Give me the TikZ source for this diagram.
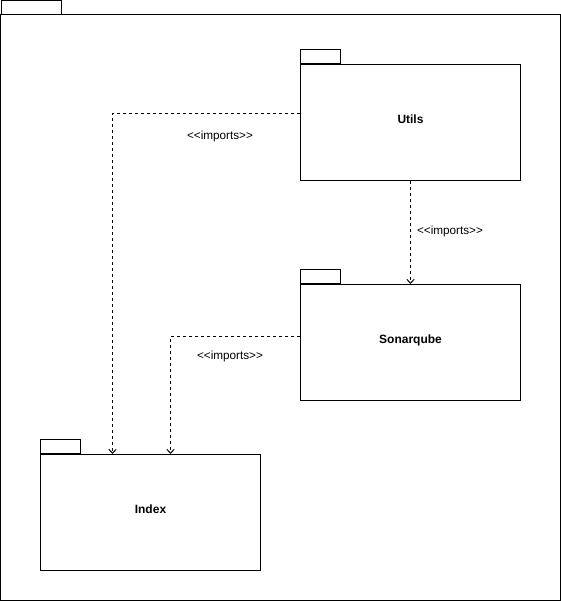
\documentclass[tikz,border=0pt]{standalone}
\usepackage{fontspec}
\setmainfont{Liberation Sans}
\usetikzlibrary{arrows.meta,positioning}
\begin{document}
\begin{tikzpicture}[x=0.75pt,y=-0.75pt,line width=0.75pt,
  pkg/.style={draw,rectangle,minimum width=165pt,minimum height=87pt,inner sep=0pt,text height=7pt,text depth=5pt,font=\fontsize{9}{11}\selectfont\bfseries},
  tabbox/.style={draw,rectangle,minimum width=30pt,minimum height=10.5pt,inner sep=0pt,anchor=south west},
  dep/.style={draw,dash pattern=on 2.25pt off 2.25pt,-{Straight Barb[length=3pt,width=5.5pt,line width=0.75pt]}},
  lbl/.style={font=\fontsize{8.8}{10}\selectfont,inner sep=0pt}]
\useasboundingbox (0,0) rectangle (561,601);
% outer package
\draw (0.5,14.5) rectangle (560,600);
\coordinate (outernw) at (0.5,14.5);
\node[tabbox,minimum width=45pt] (outertab) at (outernw) {};
% packages
\node[pkg] (utils) at (410.5,122.5) {Utils};
\node[tabbox] (utilstab) at (utils.north west) {};
\node[pkg] (sonar) at (410.5,342.5) {Sonarqube};
\node[tabbox] (sonartab) at (sonar.north west) {};
\node[pkg] (index) at (150.5,512.5) {Index};
\node[tabbox] (indextab) at (index.north west) {};
% dependencies
\draw[dep] ([yshift=6.75pt]utils.west) -| ([xshift=-28.5pt]index.north);
\draw[dep] (utils.south) -- (sonar.north);
\draw[dep] ([yshift=4.5pt]sonar.west) -| ([xshift=15pt]index.north);
% labels
\node[lbl] (l1) at (220,136) {{<}{<}imports{>}{>}};
\node[lbl] (l2) at (450,231.5) {{<}{<}imports{>}{>}};
\node[lbl] (l3) at (230,356.5) {{<}{<}imports{>}{>}};
\end{tikzpicture}
\end{document}
